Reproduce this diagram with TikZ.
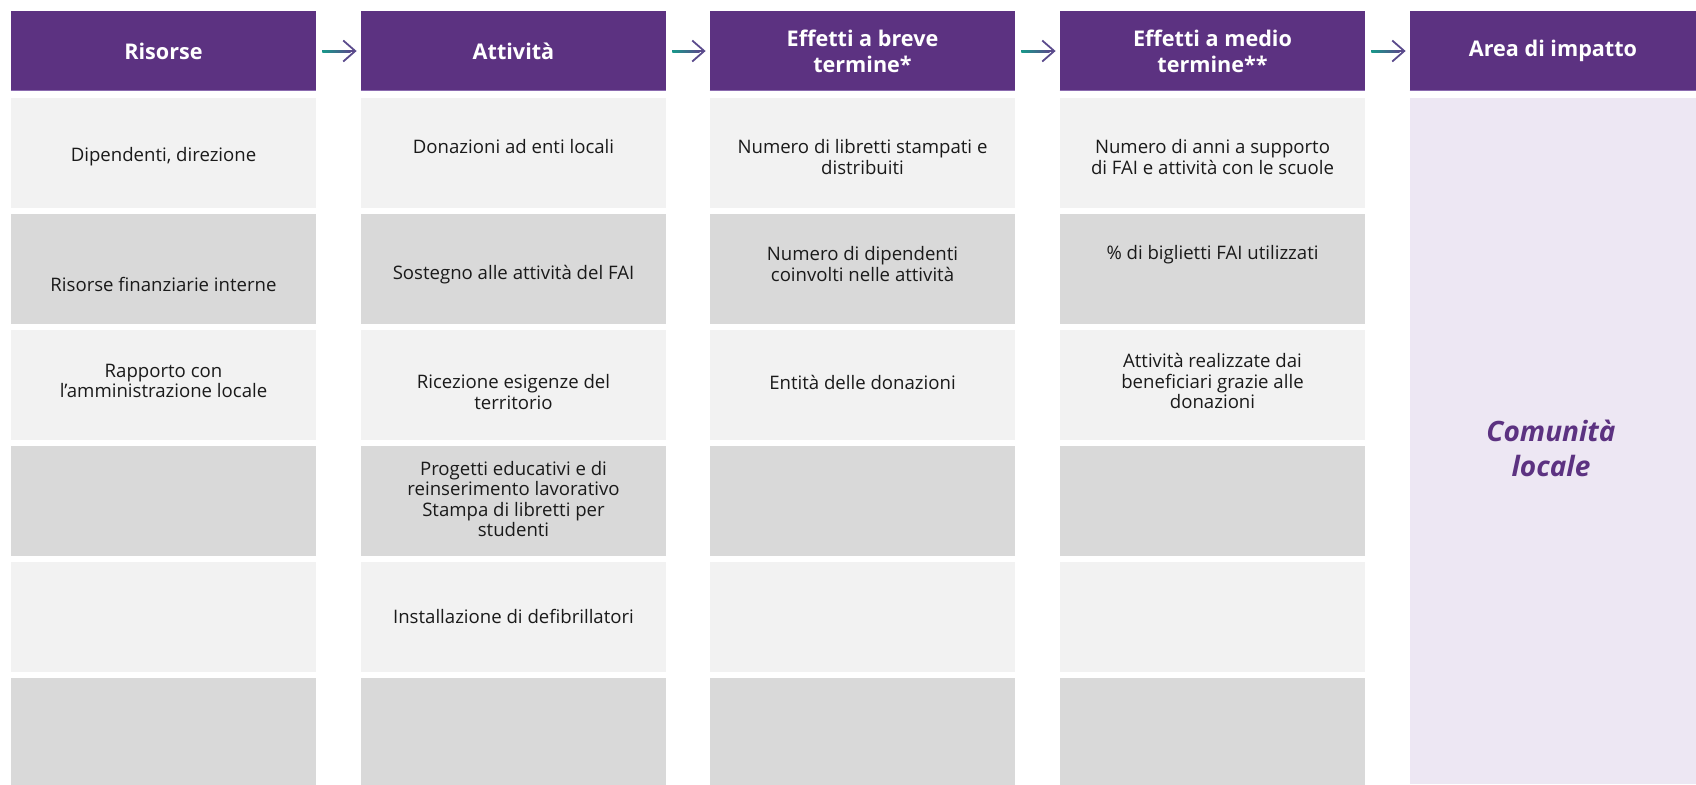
\documentclass[tikz,border=0pt]{standalone}
\usepackage{fontspec}
\setmainfont{Open Sans}
\usetikzlibrary{arrows.meta,calc}
\definecolor{hdr}{HTML}{5C3281}
\definecolor{hdrline}{HTML}{8B6BAF}
\definecolor{rowA}{HTML}{F2F2F2}
\definecolor{rowB}{HTML}{D9D9D9}
\definecolor{impact}{HTML}{EDE7F3}
\definecolor{arrteal}{HTML}{17998A}
\definecolor{arrpurple}{HTML}{5A4A8C}
\definecolor{txt}{HTML}{1A1A1A}
\begin{document}
\begin{tikzpicture}[x=0.5pt,y=-0.5pt,
  hdrbox/.style={fill=hdr, minimum width=152.5pt, minimum height=40pt, inner sep=0pt, text=white,
    font=\bfseries\fontsize{10.8}{13}\selectfont, align=center},
  rowbox/.style={minimum width=152.5pt, minimum height=55pt, inner sep=0pt},
  lightrow/.style={rowbox, fill=rowA},
  darkrow/.style={rowbox, fill=rowB},
  bodytxt/.style={text=txt, font=\fontsize{9.3}{10.3}\selectfont, align=center, inner sep=0pt},
  flowarrow/.style={draw=arrpurple, line width=0.9pt, -{Straight Barb[length=6pt,width=10.5pt,line width=0.9pt]}},
]
\useasboundingbox (0,0) rectangle (1696,784);
\fill[white] (0,0) rectangle (1696,784);

% headers
\node[hdrbox] (h1) at (163.5,51) {Risorse};
\node[hdrbox] (h2) at (513.5,51) {Attività};
\node[hdrbox] (h3) at (862.5,51) {Effetti a breve\\termine*};
\node[hdrbox] (h4) at (1212.5,51) {Effetti a medio\\termine**};
\node[hdrbox, minimum width=143pt] (h5) at (1553,51) {Area di impatto};
\foreach \n in {h1,h2,h3,h4,h5}{
  \draw[hdrline, line width=0.6pt] ([yshift=0.3pt]\n.south west) -- ([yshift=0.3pt]\n.south east);
}

% rows
\foreach \c/\x in {1/163.5,2/513.5,3/862.5,4/1212.5}{
  \node[lightrow] (r\c a) at (\x,153) {};
  \node[darkrow]  (r\c b) at (\x,269) {};
  \node[lightrow] (r\c c) at (\x,385) {};
  \node[darkrow]  (r\c d) at (\x,501) {};
  \node[lightrow] (r\c e) at (\x,617) {};
  \node[darkrow]  (r\c f) at (\x,733) {};
}
\node[fill=impact, minimum width=143pt, minimum height=343pt, inner sep=0pt] (imp) at (1553,441) {};

% arrows
\foreach \a/\b in {h1/h2,h2/h3,h3/h4,h4/h5}{
  \draw[flowarrow] ([xshift=3pt]\a.east) -- ([xshift=-2pt]\b.west);
  \shade[left color=arrteal, right color=arrpurple] ([xshift=3pt,yshift=-0.5pt]\a.east) rectangle ([xshift=-5pt,yshift=0.5pt]\b.west);
}

% column 1
\node[bodytxt] (t1a) at (163.5,157) {Dipendenti, direzione};
\node[bodytxt] (t1b) at (163.5,284) {Risorse finanziarie interne};
\node[bodytxt] (t1c) at (163.5,381) {Rapporto con\\l’amministrazione locale};
% column 2
\node[bodytxt] (t2a) at (513.5,147) {Donazioni ad enti locali};
\node[bodytxt] (t2b) at (513.5,275) {Sostegno alle attività del FAI};
\node[bodytxt] (t2c) at (513.5,392) {Ricezione esigenze del\\territorio};
\node[bodytxt] (t2d) at (513.5,499) {Progetti educativi e di\\reinserimento lavorativo\\Stampa di libretti per\\studenti};
\node[bodytxt] (t2e) at (513.5,616) {Installazione di defibrillatori};
% column 3
\node[bodytxt] (t3a) at (862.5,157) {Numero di libretti stampati e\\distribuiti};
\node[bodytxt] (t3b) at (862.5,264) {Numero di dipendenti\\coinvolti nelle attività};
\node[bodytxt] (t3c) at (862.5,382) {Entità delle donazioni};
% column 4
\node[bodytxt] (t4a) at (1212.5,157) {Numero di anni a supporto\\di FAI e attività con le scuole};
\node[bodytxt] (t4b) at (1212.5,255) {\% di biglietti FAI utilizzati};
\node[bodytxt] (t4c) at (1212.5,381) {Attività realizzate dai\\beneficiari grazie alle\\donazioni};
% column 5
\node[text=hdr, font=\bfseries\itshape\fontsize{14}{17.5}\selectfont, align=center, inner sep=0pt] (t5) at (1551,448) {Comunità\\locale};
\end{tikzpicture}
\end{document}
